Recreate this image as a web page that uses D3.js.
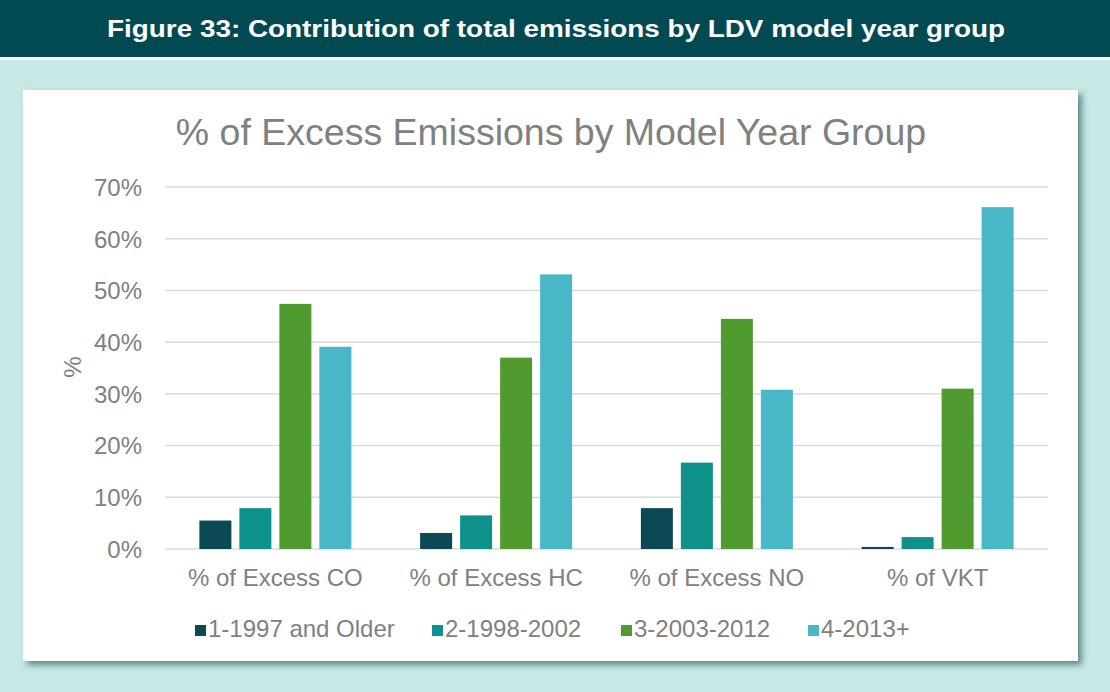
<!DOCTYPE html>
<html>
<head>
<meta charset="utf-8">
<script src="https://cdn.jsdelivr.net/npm/d3@7"></script>
<style>
  body { margin: 0; background: #c7e8e5; }
  svg { display: block; font-family: "Liberation Sans", Arial, sans-serif; }
</style>
</head>
<body>
<div id="chart"></div>
<script>
var categories = ["% of Excess CO", "% of Excess HC", "% of Excess NO", "% of VKT"];
var groups = ["1-1997 and Older", "2-1998-2002", "3-2003-2012", "4-2013+"];
var groupColors = ["#0b4a55", "#0f918b", "#4f9b2f", "#48b8c9"];
// one array per model-year group, values in % across categories
var older = [5.5, 3.1, 7.9, 0.4];
var y1998 = [7.9, 6.5, 16.7, 2.3];
var y2003 = [47.4, 37.0, 44.5, 31.0];
var y2013 = [39.1, 53.1, 30.8, 66.1];
var yTicks = [0, 10, 20, 30, 40, 50, 60, 70];

var series = [older, y1998, y2003, y2013];

var W = 1110, H = 692;
var svg = d3.select("#chart").append("svg")
  .attr("width", W)
  .attr("height", H);

// header band
svg.append("rect").attr("x", 0).attr("y", 0).attr("width", W).attr("height", 57).attr("fill", "#024a51");
svg.append("rect").attr("x", 0).attr("y", 57).attr("width", W).attr("height", 3).attr("fill", "#ffffff");
svg.append("rect").attr("x", 0).attr("y", 60).attr("width", W).attr("height", H - 60).attr("fill", "#c7e8e5");
svg.append("text")
  .attr("x", W / 2 + 1).attr("y", 37)
  .attr("text-anchor", "middle")
  .attr("fill", "#ffffff")
  .attr("textLength", 898)
  .attr("lengthAdjust", "spacingAndGlyphs")
  .style("font-size", "24.5px")
  .style("font-weight", "bold")
  .text("Figure 33: Contribution of total emissions by LDV model year group");

// card with shadow
var defs = svg.append("defs");
var f = defs.append("filter").attr("id", "shadow").attr("x", "-5%").attr("y", "-5%").attr("width", "110%").attr("height", "115%");
f.append("feDropShadow").attr("dx", 4).attr("dy", 4).attr("stdDeviation", 3).attr("flood-color", "#3d6b6b").attr("flood-opacity", 0.75);
svg.append("rect")
  .attr("x", 23).attr("y", 90).attr("width", 1055).attr("height", 571)
  .attr("fill", "#ffffff")
  .attr("filter", "url(#shadow)");

svg.append("text")
  .attr("x", 551).attr("y", 145)
  .attr("text-anchor", "middle")
  .attr("fill", "#808080")
  .style("font-size", "37.5px")
  .text("% of Excess Emissions by Model Year Group");

var margin = { left: 165, right: 1048, top: 187, bottom: 549 };

var x = d3.scaleBand().domain(categories).range([margin.left, margin.right]);
var y = d3.scaleLinear().domain([0, 70]).range([margin.bottom, margin.top]);
var xInner = d3.scaleBand().domain(d3.range(groups.length)).range([0, 152]).paddingInner(0.2);

// gridlines
svg.append("g")
  .selectAll("line")
  .data(yTicks)
  .enter().append("line")
  .attr("x1", margin.left).attr("x2", margin.right)
  .attr("y1", function (d) { return y(d); })
  .attr("y2", function (d) { return y(d); })
  .attr("stroke", "#dcdcdc")
  .attr("stroke-width", 1.5);

// y axis labels
var yAxis = svg.append("g")
  .attr("transform", "translate(" + (margin.left - 20) + ",0)")
  .call(d3.axisLeft(y).tickValues(yTicks).tickSize(0).tickFormat(function (d) { return d + "%"; }));
yAxis.select(".domain").remove();
yAxis.selectAll("text")
  .attr("fill", "#808080")
  .attr("dy", "0.35em")
  .style("font-size", "24px")
  .style("font-family", "Liberation Sans, Arial, sans-serif");

svg.append("text")
  .attr("transform", "translate(81," + 367 + ") rotate(-90)")
  .attr("text-anchor", "middle")
  .attr("fill", "#808080")
  .style("font-size", "24px")
  .text("%");

// bars
series.forEach(function (vals, gi) {
  svg.append("g")
    .selectAll("rect")
    .data(vals)
    .enter().append("rect")
    .attr("x", function (d, i) { return x(categories[i]) + x.bandwidth() / 2 - 76 + xInner(gi); })
    .attr("y", function (d) { return y(d); })
    .attr("width", xInner.bandwidth())
    .attr("height", function (d) { return y(0) - y(d); })
    .attr("fill", groupColors[gi]);
});

// x axis labels
var xAxis = svg.append("g")
  .attr("transform", "translate(0," + (margin.bottom + 10) + ")")
  .call(d3.axisBottom(x).tickSize(0));
xAxis.select(".domain").remove();
xAxis.selectAll("text")
  .attr("fill", "#808080")
  .attr("dy", "1em")
  .style("font-size", "24px")
  .style("font-family", "Liberation Sans, Arial, sans-serif");

// legend
var legendX = [195, 432, 621, 808];
var legend = svg.append("g").attr("transform", "translate(0,631)");
var items = legend.selectAll("g")
  .data(groups)
  .enter().append("g")
  .attr("transform", function (d, i) { return "translate(" + legendX[i] + ",0)"; });
items.append("rect")
  .attr("x", 0).attr("y", -6)
  .attr("width", 11).attr("height", 11)
  .attr("fill", function (d, i) { return groupColors[i]; });
items.append("text")
  .attr("x", 13).attr("y", 6)
  .attr("fill", "#808080")
  .style("font-size", "24px")
  .text(function (d) { return d; });
</script>
</body>
</html>
